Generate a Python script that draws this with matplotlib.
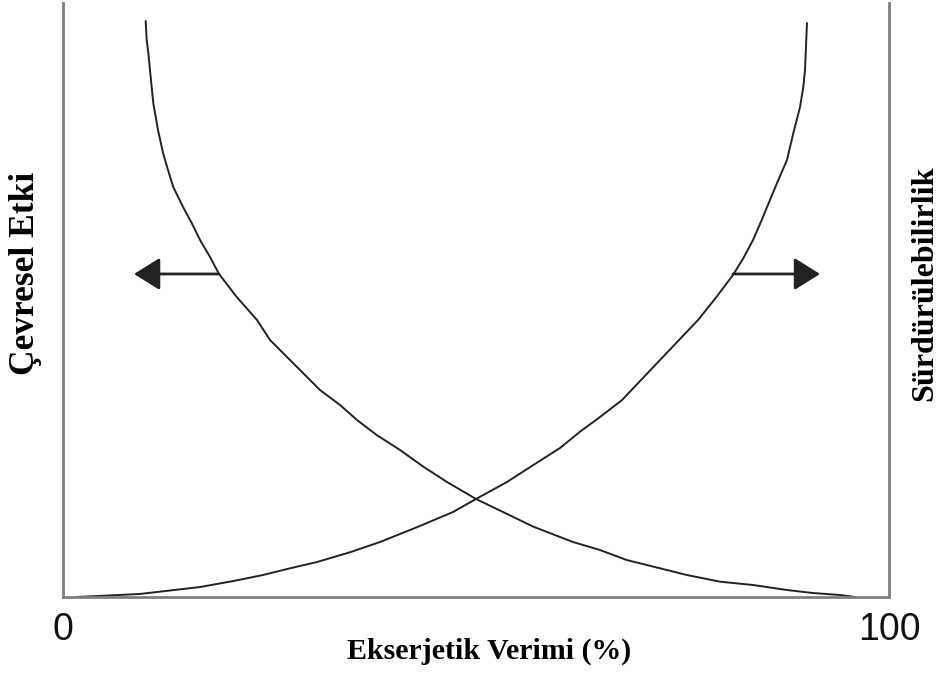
import matplotlib
matplotlib.use("Agg")
import matplotlib.pyplot as plt

# Decreasing curve: environmental impact (Çevresel Etki)
impact_x = [10.01, 10.13, 10.33, 10.53, 10.93, 11.50, 12.11, 12.71, 13.35, 14.53,
            15.58, 16.59, 17.80, 18.89, 21.03, 23.49, 25.06, 27.12, 28.69, 31.11,
            33.54, 35.59, 37.98, 40.80, 43.62, 46.49, 50.00, 53.27, 56.94, 61.74,
            65.01, 68.24, 75.54, 79.54, 83.54, 87.62, 90.80, 94.07, 95.88]
impact_y = [96.97, 93.77, 91.58, 88.72, 83.16, 78.62, 74.75, 71.89, 69.02, 65.66,
            62.96, 60.10, 57.24, 54.38, 50.51, 46.63, 43.27, 40.40, 38.22, 34.85,
            32.32, 29.80, 27.27, 24.75, 21.94, 19.36, 16.50, 14.31, 11.84, 9.26,
            7.91, 6.23, 3.70, 2.58, 2.02, 1.18, 0.67, 0.34, 0.0]

# Increasing curve: sustainability (Sürdürülebilirlik)
sust_x = [1.69, 9.32, 16.59, 20.62, 24.21, 27.48, 30.75, 34.75, 38.38, 42.82,
          47.22, 50.00, 53.75, 56.94, 60.17, 62.59, 65.01, 67.68, 72.28, 76.88,
          79.14, 81.11, 82.36, 83.54, 84.59, 85.59, 86.60, 87.65, 88.41, 89.23,
          89.63, 89.83, 90.07]
sust_y = [0.0, 0.51, 1.68, 2.69, 3.70, 4.83, 5.89, 7.53, 9.26, 11.73,
          14.31, 16.50, 19.36, 22.22, 25.08, 27.83, 30.30, 33.16, 39.90, 46.63,
          50.56, 54.21, 57.02, 60.10, 63.47, 66.84, 70.20, 73.57, 78.06, 82.49,
          85.91, 88.72, 96.63]

# Arrows: (start x, tip x, y)
arrow_left = (18.89, 8.60, 54.38)
arrow_right = (81.11, 91.65, 54.38)

xticks = [0, 100]
xtick_labels = ["0", "100"]

fig = plt.figure(figsize=(9.47, 6.73), dpi=100)
ax = fig.add_axes([63 / 947, 76 / 673, 826 / 947, 594 / 673])

line_color = "#222222"
ax.plot(impact_x, impact_y, color=line_color, lw=1.4, solid_capstyle="round",
        solid_joinstyle="round")
ax.plot(sust_x, sust_y, color=line_color, lw=1.4, solid_capstyle="round",
        solid_joinstyle="round")

for x0, x1, y in (arrow_left, arrow_right):
    ax.annotate("", xy=(x1, y), xytext=(x0, y),
                arrowprops=dict(arrowstyle="-|>,head_length=0.8,head_width=0.5",
                                mutation_scale=20, lw=2, color=line_color,
                                shrinkA=0, shrinkB=0))

ax.set_xlim(0, 100)
ax.set_ylim(0, 100)
ax.set_xticks(xticks)
ax.set_xticklabels(xtick_labels, fontfamily="Liberation Sans", fontsize=27,
                   color="#111111")
ax.tick_params(axis="x", length=0, pad=11)
ax.set_yticks([])

for side in ("left", "right", "bottom"):
    ax.spines[side].set_color("#7f7f7f")
    ax.spines[side].set_linewidth(2)
ax.spines["top"].set_visible(False)

fig.text(489 / 947, 1 - 651 / 673, "Ekserjetik Verimi (%)", ha="center", va="center",
         fontfamily="Liberation Serif", fontweight="bold", fontsize=21.5)
fig.text(26 / 947, 1 - 273 / 673, "Çevresel Etki", ha="center", va="center",
         rotation=90, fontfamily="Liberation Serif", fontweight="bold", fontsize=25.5)
fig.text(925 / 947, 1 - 283 / 673, "Sürdürülebilirlik", ha="center", va="center",
         rotation=90, fontfamily="Liberation Serif", fontweight="bold", fontsize=23)

fig.savefig("out.png", dpi=100)
